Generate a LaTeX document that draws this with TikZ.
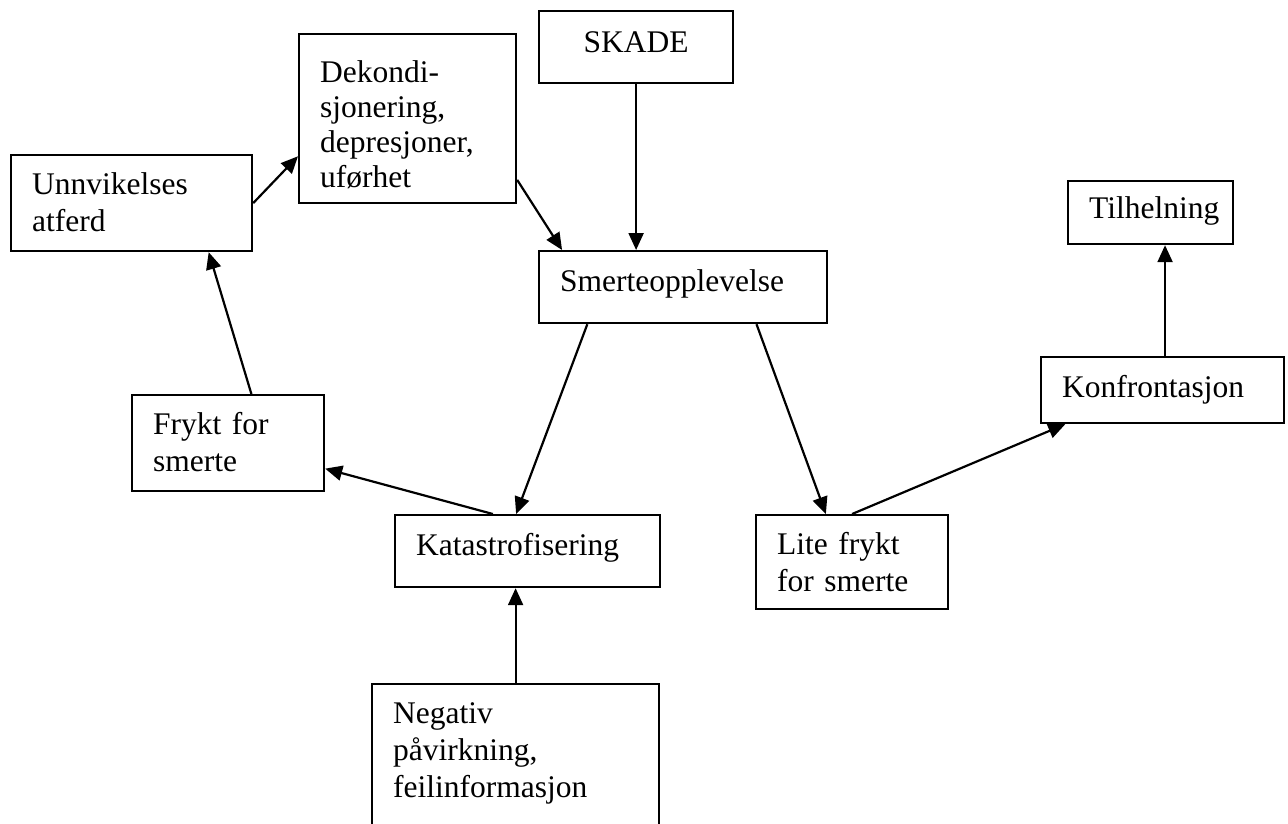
\documentclass[tikz,border=0pt]{standalone}
\usepackage{fontspec}
\setmainfont{Liberation Serif}
\usetikzlibrary{calc,arrows.meta}
\begin{document}
\begin{tikzpicture}[x=1pt,y=-1pt,
  box/.style={draw, line width=2.2pt, anchor=north west, align=left,
    inner ysep=0pt, inner xsep=21pt, font=\fontsize{31.5}{37}\selectfont},
  flow/.style={line width=2.2pt, -{Triangle[length=17pt,width=15pt]}}]
\useasboundingbox (0,0) rectangle (1288,823);

% boxes
\node[box, align=center, text width=152pt, text height=41pt, text depth=31pt] (skade) at (538,10) {SKADE};
\node[box, font=\fontsize{31.5}{35}\selectfont, text width=175pt, text height=48pt, text depth=121pt] (dek) at (298,33)
  {Dekondi-\\sjonering,\\depresjoner,\\uførhet};
\node[box, text width=199pt, text height=39pt, text depth=57pt] (unn) at (10,154) {Unnvikelses\\atferd};
\node[box, text width=123pt, text height=37pt, text depth=26pt] (til) at (1067,180) {\mbox{Tilhelning}};
\node[box, text width=246pt, text height=40pt, text depth=32pt] (smerte) at (538,250) {Smerteopplevelse};
\node[box, text width=201pt, text height=40pt, text depth=26pt] (konf) at (1040,356) {Konfrontasjon};
\node[box, text width=150pt, text height=39pt, text depth=57pt] (frykt) at (131,394) {Frykt for\\smerte};
\node[box, text width=223pt, text height=40pt, text depth=32pt] (kat) at (394,514) {Katastrofisering};
\node[box, text width=150pt, text height=39pt, text depth=55pt] (lite) at (755,514) {Lite frykt\\for smerte};
\node[box, text width=245pt, text height=39pt, text depth=130pt] (neg) at (371,683)
  {Negativ\\påvirkning,\\feilinformasjon};

% connectors
\draw[flow] (skade.south) -- (skade.south |- smerte.north);
\draw[flow] ($(dek.north east)!0.858!(dek.south east)$) -- ($(smerte.north west)!0.083!(smerte.north east)$);
\draw[flow] (unn.east) -- ($(dek.north west)!0.72!(dek.south west)$);
\draw[flow] ($(frykt.north west)!0.62!(frykt.north east)$) -- ($(unn.south west)!0.817!(unn.south east)$);
\draw[flow] ($(smerte.south west)!0.17!(smerte.south east)$) -- ($(kat.north west)!0.457!(kat.north east)$);
\draw[flow] ($(kat.north west)!0.37!(kat.north east)$) -- ($(frykt.north east)!0.76!(frykt.south east)$);
\draw[flow] ($(smerte.south west)!0.753!(smerte.south east)$) -- ($(lite.north west)!0.365!(lite.north east)$);
\draw[flow] (lite.north) -- ($(konf.south west)!0.103!(konf.south east)$);
\coordinate (kt) at ($(konf.north west)!0.51!(konf.north east)$);
\draw[flow] (kt) -- (kt |- til.south);
\draw[flow] (neg.north) -- (neg.north |- kat.south);
\end{tikzpicture}
\end{document}
